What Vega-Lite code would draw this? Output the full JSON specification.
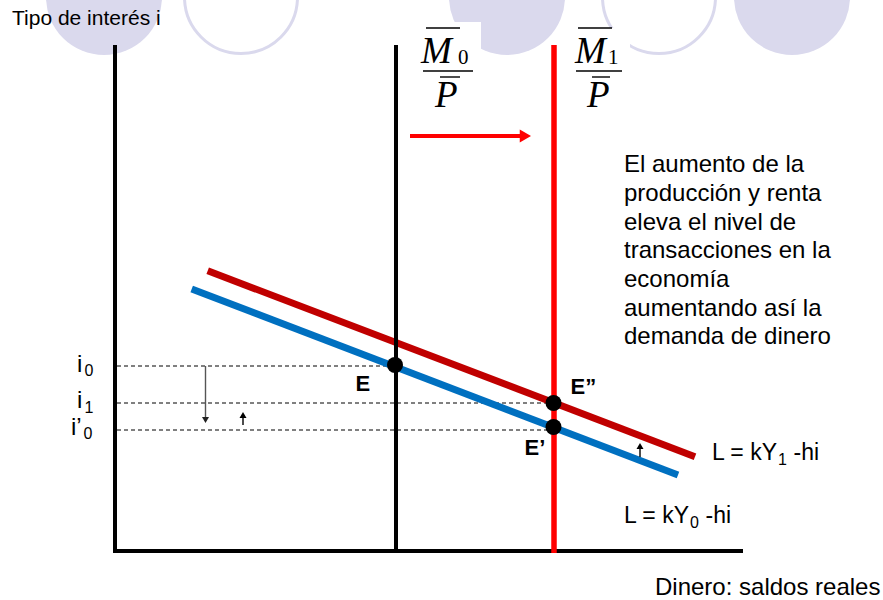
{
  "$schema": "https://vega.github.io/schema/vega-lite/v6.json",
  "width": 883,
  "height": 600,
  "padding": 0,
  "autosize": {"type": "none"},
  "background": "white",
  "config": {"view": {"stroke": null}},
  "datasets": {
    "circFilled": [{"x": 104, "y": -3}, {"x": 507, "y": -3}, {"x": 792, "y": -3}],
    "circOutline": [{"x": 241, "y": -3}, {"x": 659, "y": -3}],
    "boxes": [{"x": 402, "x2": 481, "y": 22, "y2": 112}, {"x": 568, "x2": 630, "y": 28, "y2": 112}],
    "blackLines": [
      {"x": 115, "y": 45, "x2": 115, "y2": 553},
      {"x": 113, "y": 551, "x2": 743, "y2": 551},
      {"x": 396, "y": 45, "x2": 396, "y2": 553}
    ],
    "redLine": [{"x": 554, "y": 45, "x2": 554, "y2": 553}],
    "dashed": [
      {"x": 117, "y": 366, "x2": 396, "y2": 366},
      {"x": 117, "y": 403, "x2": 554, "y2": 403},
      {"x": 117, "y": 430, "x2": 554, "y2": 430}
    ],
    "lm1": [{"x": 207.7, "y": 270.7, "x2": 695, "y2": 456.7}],
    "lm0": [{"x": 191.7, "y": 289, "x2": 678, "y2": 475}],
    "redArrow": [{"x": 410, "y": 136, "x2": 522, "y2": 136}],
    "redHead": [{"x": 525.4, "y": 136}],
    "grayArrow": [{"x": 205.5, "y": 366, "x2": 205.5, "y2": 420}],
    "grayHead": [{"x": 205.5, "y": 420}],
    "upArrows": [{"x": 243, "y": 425, "x2": 243, "y2": 415}, {"x": 640, "y": 457, "x2": 640, "y2": 446}],
    "upHeads": [{"x": 243, "y": 415}, {"x": 640, "y": 446}],
    "eqPoints": [{"x": 395, "y": 365}, {"x": 553.5, "y": 403}, {"x": 553.5, "y": 427}],
    "fracLines": [
      {"x": 426, "y": 28, "x2": 460, "y2": 28},
      {"x": 440, "y": 77, "x2": 460, "y2": 77},
      {"x": 423, "y": 71, "x2": 473, "y2": 71},
      {"x": 578, "y": 28, "x2": 612, "y2": 28},
      {"x": 592, "y": 77, "x2": 610, "y2": 77},
      {"x": 576, "y": 71, "x2": 622, "y2": 71}
    ],
    "serifItalic": [
      {"x": 421, "y": 63, "t": "M"},
      {"x": 435, "y": 107, "t": "P"},
      {"x": 575, "y": 63, "t": "M"},
      {"x": 587, "y": 107, "t": "P"}
    ],
    "serifSub": [{"x": 458, "y": 64, "t": "0"}, {"x": 608, "y": 64, "t": "1"}],
    "block": [
      {"x": 624, "y": 172, "t": "El aumento de la"},
      {"x": 624, "y": 201, "t": "producción y renta"},
      {"x": 624, "y": 230, "t": "eleva el nivel de"},
      {"x": 624, "y": 258, "t": "transacciones en la"},
      {"x": 624, "y": 287, "t": "economía"},
      {"x": 624, "y": 316, "t": "aumentando así la"},
      {"x": 624, "y": 344, "t": "demanda de dinero"},
      {"x": 655, "y": 595, "t": "Dinero: saldos reales"},
      {"x": 77, "y": 372, "t": "i"},
      {"x": 77, "y": 408, "t": "i"},
      {"x": 71, "y": 435, "t": "i’"}
    ],
    "title": [{"x": 12, "y": 25, "t": "Tipo de interés i"}],
    "lLabels": [
      {"x": 712, "y": 460, "t": "L = kY"},
      {"x": 793.5, "y": 460, "t": "-hi"},
      {"x": 624, "y": 523, "t": "L = kY"},
      {"x": 705.5, "y": 523, "t": "-hi"}
    ],
    "subs": [
      {"x": 778, "y": 465, "t": "1"},
      {"x": 690, "y": 528, "t": "0"},
      {"x": 84.5, "y": 376, "t": "0"},
      {"x": 84.5, "y": 413, "t": "1"},
      {"x": 83.5, "y": 439, "t": "0"}
    ],
    "eLabels": [
      {"x": 355.5, "y": 391, "t": "E"},
      {"x": 570.5, "y": 394, "t": "E”"},
      {"x": 524.5, "y": 455, "t": "E’"}
    ]
  },
  "layer": [
    {
      "data": {"name": "circFilled"},
      "mark": {"type": "point", "shape": "circle", "filled": true, "fill": "#dad9ed", "strokeWidth": 0, "opacity": 1, "size": 13456, "clip": true},
      "encoding": {
        "x": {"field": "x", "type": "quantitative", "scale": {"domain": [0, 883], "nice": false, "zero": false}, "axis": null},
        "y": {"field": "y", "type": "quantitative", "scale": {"domain": [0, 600], "nice": false, "zero": false, "reverse": true}, "axis": null}
      }
    },
    {
      "data": {"name": "circOutline"},
      "mark": {"type": "point", "shape": "circle", "filled": false, "fill": null, "stroke": "#dad9ed", "strokeWidth": 3, "opacity": 1, "size": 12769, "clip": true},
      "encoding": {
        "x": {"field": "x", "type": "quantitative", "scale": {"domain": [0, 883], "nice": false, "zero": false}, "axis": null},
        "y": {"field": "y", "type": "quantitative", "scale": {"domain": [0, 600], "nice": false, "zero": false, "reverse": true}, "axis": null}
      }
    },
    {
      "data": {"name": "boxes"},
      "mark": {"type": "rect", "fill": "white", "strokeWidth": 0},
      "encoding": {
        "x": {"field": "x", "type": "quantitative", "scale": {"domain": [0, 883], "nice": false, "zero": false}, "axis": null},
        "x2": {"field": "x2"},
        "y": {"field": "y", "type": "quantitative", "scale": {"domain": [0, 600], "nice": false, "zero": false, "reverse": true}, "axis": null},
        "y2": {"field": "y2"}
      }
    },
    {
      "data": {"name": "dashed"},
      "mark": {"type": "rule", "color": "#000000", "strokeWidth": 1, "strokeDash": [4, 3]},
      "encoding": {
        "x": {"field": "x", "type": "quantitative", "scale": {"domain": [0, 883], "nice": false, "zero": false}, "axis": null},
        "x2": {"field": "x2"},
        "y": {"field": "y", "type": "quantitative", "scale": {"domain": [0, 600], "nice": false, "zero": false, "reverse": true}, "axis": null},
        "y2": {"field": "y2"}
      }
    },
    {
      "data": {"name": "lm0"},
      "mark": {"type": "rule", "color": "#0070c0", "strokeWidth": 7},
      "encoding": {
        "x": {"field": "x", "type": "quantitative", "scale": {"domain": [0, 883], "nice": false, "zero": false}, "axis": null},
        "x2": {"field": "x2"},
        "y": {"field": "y", "type": "quantitative", "scale": {"domain": [0, 600], "nice": false, "zero": false, "reverse": true}, "axis": null},
        "y2": {"field": "y2"}
      }
    },
    {
      "data": {"name": "lm1"},
      "mark": {"type": "rule", "color": "#c00000", "strokeWidth": 7},
      "encoding": {
        "x": {"field": "x", "type": "quantitative", "scale": {"domain": [0, 883], "nice": false, "zero": false}, "axis": null},
        "x2": {"field": "x2"},
        "y": {"field": "y", "type": "quantitative", "scale": {"domain": [0, 600], "nice": false, "zero": false, "reverse": true}, "axis": null},
        "y2": {"field": "y2"}
      }
    },
    {
      "data": {"name": "blackLines"},
      "mark": {"type": "rule", "color": "#000000", "strokeWidth": 4},
      "encoding": {
        "x": {"field": "x", "type": "quantitative", "scale": {"domain": [0, 883], "nice": false, "zero": false}, "axis": null},
        "x2": {"field": "x2"},
        "y": {"field": "y", "type": "quantitative", "scale": {"domain": [0, 600], "nice": false, "zero": false, "reverse": true}, "axis": null},
        "y2": {"field": "y2"}
      }
    },
    {
      "data": {"name": "redLine"},
      "mark": {"type": "rule", "color": "#ff0000", "strokeWidth": 5.5},
      "encoding": {
        "x": {"field": "x", "type": "quantitative", "scale": {"domain": [0, 883], "nice": false, "zero": false}, "axis": null},
        "x2": {"field": "x2"},
        "y": {"field": "y", "type": "quantitative", "scale": {"domain": [0, 600], "nice": false, "zero": false, "reverse": true}, "axis": null},
        "y2": {"field": "y2"}
      }
    },
    {
      "data": {"name": "redArrow"},
      "mark": {"type": "rule", "color": "#ff0000", "strokeWidth": 4},
      "encoding": {
        "x": {"field": "x", "type": "quantitative", "scale": {"domain": [0, 883], "nice": false, "zero": false}, "axis": null},
        "x2": {"field": "x2"},
        "y": {"field": "y", "type": "quantitative", "scale": {"domain": [0, 600], "nice": false, "zero": false, "reverse": true}, "axis": null},
        "y2": {"field": "y2"}
      }
    },
    {
      "data": {"name": "redHead"},
      "mark": {"type": "point", "shape": "triangle-right", "filled": true, "fill": "#ff0000", "strokeWidth": 0, "opacity": 1, "size": 169},
      "encoding": {
        "x": {"field": "x", "type": "quantitative", "scale": {"domain": [0, 883], "nice": false, "zero": false}, "axis": null},
        "y": {"field": "y", "type": "quantitative", "scale": {"domain": [0, 600], "nice": false, "zero": false, "reverse": true}, "axis": null}
      }
    },
    {
      "data": {"name": "grayArrow"},
      "mark": {"type": "rule", "color": "#555555", "strokeWidth": 1.4},
      "encoding": {
        "x": {"field": "x", "type": "quantitative", "scale": {"domain": [0, 883], "nice": false, "zero": false}, "axis": null},
        "x2": {"field": "x2"},
        "y": {"field": "y", "type": "quantitative", "scale": {"domain": [0, 600], "nice": false, "zero": false, "reverse": true}, "axis": null},
        "y2": {"field": "y2"}
      }
    },
    {
      "data": {"name": "grayHead"},
      "mark": {"type": "point", "shape": "triangle-down", "filled": true, "fill": "#222222", "strokeWidth": 0, "opacity": 1, "size": 49},
      "encoding": {
        "x": {"field": "x", "type": "quantitative", "scale": {"domain": [0, 883], "nice": false, "zero": false}, "axis": null},
        "y": {"field": "y", "type": "quantitative", "scale": {"domain": [0, 600], "nice": false, "zero": false, "reverse": true}, "axis": null}
      }
    },
    {
      "data": {"name": "upArrows"},
      "mark": {"type": "rule", "color": "#000000", "strokeWidth": 1.4},
      "encoding": {
        "x": {"field": "x", "type": "quantitative", "scale": {"domain": [0, 883], "nice": false, "zero": false}, "axis": null},
        "x2": {"field": "x2"},
        "y": {"field": "y", "type": "quantitative", "scale": {"domain": [0, 600], "nice": false, "zero": false, "reverse": true}, "axis": null},
        "y2": {"field": "y2"}
      }
    },
    {
      "data": {"name": "upHeads"},
      "mark": {"type": "point", "shape": "triangle-up", "filled": true, "fill": "#000000", "strokeWidth": 0, "opacity": 1, "size": 49},
      "encoding": {
        "x": {"field": "x", "type": "quantitative", "scale": {"domain": [0, 883], "nice": false, "zero": false}, "axis": null},
        "y": {"field": "y", "type": "quantitative", "scale": {"domain": [0, 600], "nice": false, "zero": false, "reverse": true}, "axis": null}
      }
    },
    {
      "data": {"name": "eqPoints"},
      "mark": {"type": "point", "shape": "circle", "filled": true, "fill": "#000000", "strokeWidth": 0, "opacity": 1, "size": 256},
      "encoding": {
        "x": {"field": "x", "type": "quantitative", "scale": {"domain": [0, 883], "nice": false, "zero": false}, "axis": null},
        "y": {"field": "y", "type": "quantitative", "scale": {"domain": [0, 600], "nice": false, "zero": false, "reverse": true}, "axis": null}
      }
    },
    {
      "data": {"name": "fracLines"},
      "mark": {"type": "rule", "color": "#000000", "strokeWidth": 1.4},
      "encoding": {
        "x": {"field": "x", "type": "quantitative", "scale": {"domain": [0, 883], "nice": false, "zero": false}, "axis": null},
        "x2": {"field": "x2"},
        "y": {"field": "y", "type": "quantitative", "scale": {"domain": [0, 600], "nice": false, "zero": false, "reverse": true}, "axis": null},
        "y2": {"field": "y2"}
      }
    },
    {
      "data": {"name": "serifItalic"},
      "mark": {"type": "text", "font": "Liberation Serif", "fontStyle": "italic", "fontSize": 37, "align": "left", "baseline": "alphabetic", "color": "#000000"},
      "encoding": {
        "x": {"field": "x", "type": "quantitative", "scale": {"domain": [0, 883], "nice": false, "zero": false}, "axis": null},
        "y": {"field": "y", "type": "quantitative", "scale": {"domain": [0, 600], "nice": false, "zero": false, "reverse": true}, "axis": null},
        "text": {"field": "t"}
      }
    },
    {
      "data": {"name": "serifSub"},
      "mark": {"type": "text", "font": "Liberation Serif", "fontSize": 21, "align": "left", "baseline": "alphabetic", "color": "#000000"},
      "encoding": {
        "x": {"field": "x", "type": "quantitative", "scale": {"domain": [0, 883], "nice": false, "zero": false}, "axis": null},
        "y": {"field": "y", "type": "quantitative", "scale": {"domain": [0, 600], "nice": false, "zero": false, "reverse": true}, "axis": null},
        "text": {"field": "t"}
      }
    },
    {
      "data": {"name": "block"},
      "mark": {"type": "text", "font": "Liberation Sans", "fontSize": 24, "align": "left", "baseline": "alphabetic", "color": "#000000"},
      "encoding": {
        "x": {"field": "x", "type": "quantitative", "scale": {"domain": [0, 883], "nice": false, "zero": false}, "axis": null},
        "y": {"field": "y", "type": "quantitative", "scale": {"domain": [0, 600], "nice": false, "zero": false, "reverse": true}, "axis": null},
        "text": {"field": "t"}
      }
    },
    {
      "data": {"name": "title"},
      "mark": {"type": "text", "font": "Liberation Sans", "fontSize": 21, "align": "left", "baseline": "alphabetic", "color": "#000000"},
      "encoding": {
        "x": {"field": "x", "type": "quantitative", "scale": {"domain": [0, 883], "nice": false, "zero": false}, "axis": null},
        "y": {"field": "y", "type": "quantitative", "scale": {"domain": [0, 600], "nice": false, "zero": false, "reverse": true}, "axis": null},
        "text": {"field": "t"}
      }
    },
    {
      "data": {"name": "lLabels"},
      "mark": {"type": "text", "font": "Liberation Sans", "fontSize": 23, "align": "left", "baseline": "alphabetic", "color": "#000000"},
      "encoding": {
        "x": {"field": "x", "type": "quantitative", "scale": {"domain": [0, 883], "nice": false, "zero": false}, "axis": null},
        "y": {"field": "y", "type": "quantitative", "scale": {"domain": [0, 600], "nice": false, "zero": false, "reverse": true}, "axis": null},
        "text": {"field": "t"}
      }
    },
    {
      "data": {"name": "subs"},
      "mark": {"type": "text", "font": "Liberation Sans", "fontSize": 16, "align": "left", "baseline": "alphabetic", "color": "#000000"},
      "encoding": {
        "x": {"field": "x", "type": "quantitative", "scale": {"domain": [0, 883], "nice": false, "zero": false}, "axis": null},
        "y": {"field": "y", "type": "quantitative", "scale": {"domain": [0, 600], "nice": false, "zero": false, "reverse": true}, "axis": null},
        "text": {"field": "t"}
      }
    },
    {
      "data": {"name": "eLabels"},
      "mark": {"type": "text", "font": "Liberation Sans", "fontSize": 22, "fontWeight": "bold", "align": "left", "baseline": "alphabetic", "color": "#000000"},
      "encoding": {
        "x": {"field": "x", "type": "quantitative", "scale": {"domain": [0, 883], "nice": false, "zero": false}, "axis": null},
        "y": {"field": "y", "type": "quantitative", "scale": {"domain": [0, 600], "nice": false, "zero": false, "reverse": true}, "axis": null},
        "text": {"field": "t"}
      }
    }
  ]
}
